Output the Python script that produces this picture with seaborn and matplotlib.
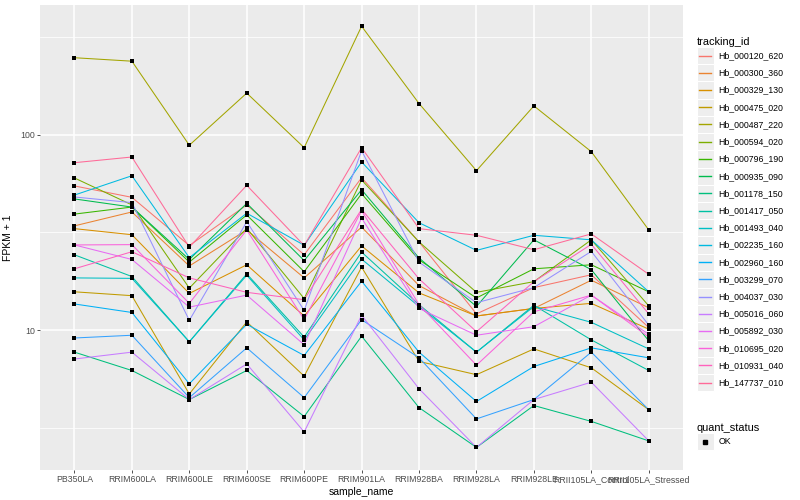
import numpy as np
import pandas as pd
import matplotlib
matplotlib.use("Agg")
import matplotlib.pyplot as plt
import seaborn as sns
from matplotlib.legend_handler import HandlerBase
from matplotlib.lines import Line2D
from matplotlib.patches import Rectangle

samples = ["PB350LA", "RRIM600LA", "RRIM600LE", "RRIM600SE", "RRIM600PE", "RRIM901LA",
           "RRIM928BA", "RRIM928LA", "RRIM928LE", "RRII105LA_Control", "RRII105LA_Stressed"]

tracking_ids = ["Hb_000120_620", "Hb_000300_360", "Hb_000329_130", "Hb_000475_020",
                "Hb_000487_220", "Hb_000594_020", "Hb_000796_190", "Hb_000935_090",
                "Hb_001178_150", "Hb_001417_050", "Hb_001493_040", "Hb_002235_160",
                "Hb_002960_160", "Hb_003299_070", "Hb_004037_030", "Hb_005016_060",
                "Hb_005892_030", "Hb_010695_020", "Hb_010931_040", "Hb_147737_010"]

# FPKM + 1, one list per gene, in sample order
hb_000120_620 = [54.8, 47.9, 27.1, 43.8, 24.3, 60.4, 28.3, 12.1, 16.5, 19.2, 10.3]
hb_000300_360 = [34.2, 40.3, 21.3, 32.6, 18.5, 33.7, 16.9, 11.8, 12.9, 18.0, 13.0]
hb_000329_130 = [33.1, 30.8, 15.4, 21.6, 11.8, 27.0, 15.5, 11.8, 12.9, 13.7, 10.1]
hb_000475_020 = [15.7, 15.0, 4.7, 11.0, 5.8, 21.0, 6.9, 5.9, 8.0, 6.4, 3.9]
hb_000487_220 = [249, 239, 88.6, 164, 86.1, 361, 145, 65.6, 141, 82.1, 32.6]
hb_000594_020 = [60.2, 43.8, 16.4, 33.2, 14.5, 58.8, 28.3, 15.6, 17.7, 29.0, 13.3]
hb_000796_190 = [39.3, 42.7, 22.3, 38.9, 19.9, 50.0, 22.9, 14.6, 20.6, 21.6, 15.7]
hb_000935_090 = [47.0, 42.7, 23.0, 44.6, 22.7, 52.4, 23.4, 13.2, 29.0, 20.4, 8.8]
hb_001178_150 = [7.7, 6.2, 4.4, 6.2, 3.6, 9.3, 4.0, 2.5, 4.1, 3.4, 2.7]
hb_001417_050 = [24.3, 18.8, 8.7, 19.4, 9.2, 25.1, 13.5, 7.7, 13.4, 8.9, 6.2]
hb_001493_040 = [18.5, 18.4, 8.7, 19.1, 8.9, 23.1, 13.2, 7.7, 13.2, 10.95, 8.0]
hb_002235_160 = [49.2, 61.8, 23.5, 39.7, 27.2, 72.7, 35.5, 25.6, 30.6, 29.0, 15.7]
hb_002960_160 = [13.6, 12.3, 5.3, 10.7, 7.4, 17.8, 7.7, 4.3, 6.5, 8.1, 7.2]
hb_003299_070 = [9.1, 9.4, 4.5, 8.1, 4.5, 11.3, 7.2, 3.5, 4.4, 7.7, 3.9]
hb_004037_030 = [48.1, 45.0, 11.2, 35.9, 12.6, 83.1, 22.3, 13.8, 16.5, 25.3, 10.6]
hb_005016_060 = [7.1, 7.7, 4.4, 6.7, 3.0, 11.9, 5.0, 2.5, 4.4, 5.4, 2.7]
hb_005892_030 = [27.3, 23.0, 13.1, 15.1, 8.4, 37.5, 12.9, 9.4, 10.4, 15.1, 9.5]
hb_010695_020 = [27.3, 27.4, 13.7, 32.6, 11.3, 40.9, 13.5, 6.6, 12.4, 15.1, 9.2]
hb_010931_040 = [20.6, 25.2, 18.5, 15.6, 14.3, 41.6, 18.3, 9.8, 17.7, 27.5, 12.1]
hb_147737_010 = [72.1, 77.1, 26.6, 55.2, 27.1, 86.1, 33.1, 30.6, 25.8, 31.1, 19.3]

values = [hb_000120_620, hb_000300_360, hb_000329_130, hb_000475_020, hb_000487_220,
          hb_000594_020, hb_000796_190, hb_000935_090, hb_001178_150, hb_001417_050,
          hb_001493_040, hb_002235_160, hb_002960_160, hb_003299_070, hb_004037_030,
          hb_005016_060, hb_005892_030, hb_010695_020, hb_010931_040, hb_147737_010]

rows = []
for tid, vals in zip(tracking_ids, values):
    for s, v in zip(samples, vals):
        rows.append({"tracking_id": tid, "sample_name": s, "fpkm": v, "quant_status": "OK"})
df = pd.DataFrame(rows)


def gg_hue(n, h0=15, h1=375, c=100, l=65):
    # ggplot2 hue_pal: polar LUV -> sRGB
    hues = np.linspace(h0, h1, n + 1)[:-1]
    xn, yn, zn = 0.95047, 1.0, 1.08883
    un = 4 * xn / (xn + 15 * yn + 3 * zn)
    vn = 9 * yn / (xn + 15 * yn + 3 * zn)
    out = []
    for h in hues:
        u = c * np.cos(np.radians(h))
        v = c * np.sin(np.radians(h))
        Y = ((l + 16) / 116) ** 3
        up = u / (13 * l) + un
        vp = v / (13 * l) + vn
        X = 9 * Y * up / (4 * vp)
        Z = -X / 3 - 5 * Y + 3 * Y / vp
        m = np.array([[3.240479, -1.537150, -0.498535],
                      [-0.969256, 1.875992, 0.041556],
                      [0.055648, -0.204043, 1.057311]])
        rgb = m @ np.array([X, Y, Z])
        rgb = np.where(rgb > 0.00304, 1.055 * np.power(np.clip(rgb, 0, None), 1 / 2.4) - 0.055, 12.92 * rgb)
        out.append(tuple(np.clip(rgb, 0, 1)))
    return out


colors = gg_hue(len(tracking_ids))
palette = dict(zip(tracking_ids, colors))

plt.rcParams["font.family"] = ["Liberation Sans", "DejaVu Sans"]

fig = plt.figure(figsize=(8, 5), dpi=100)
ax = fig.add_axes([0.05, 0.06, 0.804, 0.93])
ax.set_facecolor("#EBEBEB")

sns.lineplot(data=df, x="sample_name", y="fpkm", hue="tracking_id", palette=palette,
             sort=False, estimator=None, linewidth=0.75, legend=False, ax=ax, zorder=3)
sns.scatterplot(data=df, x="sample_name", y="fpkm", color="black", marker="s", s=5,
                linewidth=0, legend=False, ax=ax, zorder=4)

ax.set_yscale("log")
ax.set_ylim(1.915, 464)
ax.set_xlim(-0.6, len(samples) - 0.4)
ax.set_yticks([10, 100])
ax.set_yticklabels(["10", "100"])
ax.set_yticks([10 ** 0.5, 10 ** 1.5, 10 ** 2.5], minor=True)
ax.yaxis.set_minor_formatter(matplotlib.ticker.NullFormatter())
ax.set_xticks(range(len(samples)))
ax.set_xticklabels(samples)

ax.grid(True, which="major", color="white", linewidth=1.1, zorder=0)
ax.grid(True, which="minor", axis="y", color="white", linewidth=0.55, zorder=0)
ax.set_axisbelow(True)
for sp in ax.spines.values():
    sp.set_visible(False)
ax.tick_params(axis="both", which="major", length=2.2, width=0.6, color="#333333",
               labelsize=6.3, labelcolor="#4D4D4D", pad=1.5)
ax.tick_params(axis="both", which="minor", length=0)

ax.set_xlabel("sample_name", fontsize=7.5, labelpad=2)
ax.set_ylabel("FPKM + 1", fontsize=7.5, labelpad=5)


class KeyHandler(HandlerBase):
    def create_artists(self, legend, orig_handle, xdescent, ydescent, width, height, fontsize, trans):
        bg = Rectangle((-xdescent, -ydescent), width, height, facecolor="#EEEEEE",
                       edgecolor="white", linewidth=0.8, transform=trans)
        if orig_handle.get_marker() not in (None, "None", ""):
            ln = Line2D([width / 2 - xdescent], [height / 2 - ydescent], marker="s", markersize=2.2,
                        color="black", linestyle="none", transform=trans)
        else:
            ln = Line2D([-xdescent + 0.15 * width, -xdescent + 0.85 * width],
                        [height / 2 - ydescent] * 2, color=orig_handle.get_color(),
                        linewidth=1.0, transform=trans)
        return [bg, ln]


handles = [Line2D([], [], color=palette[t]) for t in tracking_ids]
leg1 = fig.legend(handles, tracking_ids, title="tracking_id", loc="upper left",
                  bbox_to_anchor=(0.871, 0.926), frameon=False, fontsize=6.3,
                  title_fontsize=7.9, handlelength=1.95, handleheight=2.65,
                  labelspacing=0, handletextpad=0.5, borderpad=0, borderaxespad=0,
                  alignment="left", handler_map={Line2D: KeyHandler()})

ok_handle = Line2D([], [], marker="s", color="black", linestyle="none")
leg2 = fig.legend([ok_handle], ["OK"], title="quant_status", loc="upper left",
                  bbox_to_anchor=(0.871, 0.154), frameon=False, fontsize=6.3,
                  title_fontsize=7.9, handlelength=1.95, handleheight=2.65,
                  labelspacing=0, handletextpad=0.5, borderpad=0, borderaxespad=0,
                  alignment="left", handler_map={Line2D: KeyHandler()})

fig.savefig("out.png", dpi=100)
